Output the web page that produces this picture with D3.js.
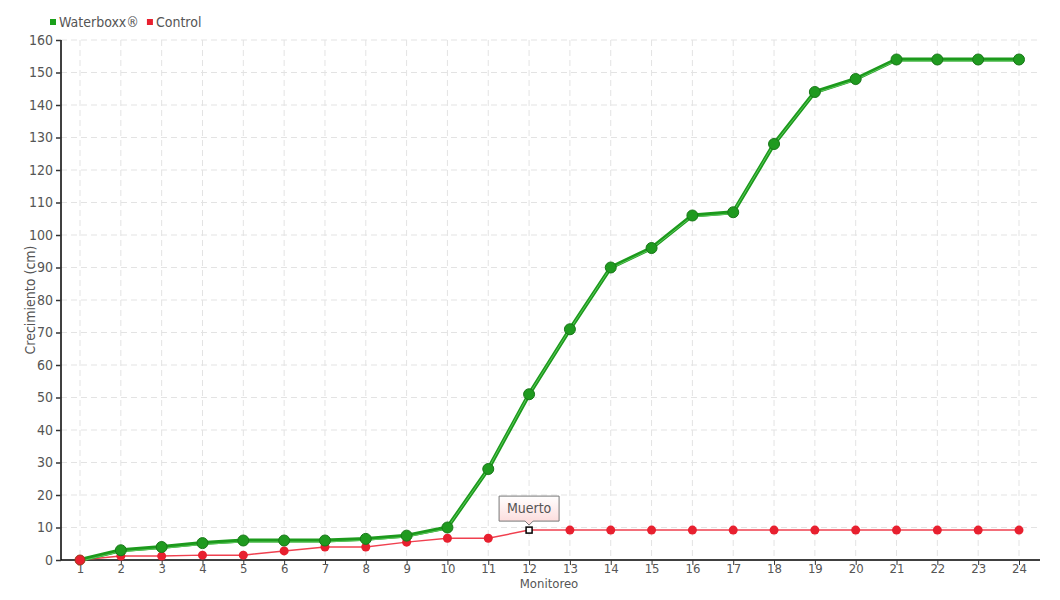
<!DOCTYPE html>
<html><head><meta charset="utf-8">
<script src="https://cdn.jsdelivr.net/npm/d3@7"></script>
<style>
body{margin:0;background:#fff;}
text{font-family:"Liberation Sans Narrow","DejaVu Sans Condensed",sans-serif;}
</style></head>
<body><svg id="c" width="1060" height="600"></svg>
<script>
const categories = d3.range(1,25).map(String);
const waterboxx = [0,3,4,5.2,6,6,6,6.5,7.5,10,28,51,71,90,96,106,107,128,144,148,154,154,154,154];
const control = [0,1.2,1.2,1.5,1.5,2.8,4,4,5.5,6.7,6.7,9.2,9.2,9.2,9.2,9.2,9.2,9.2,9.2,9.2,9.2,9.2,9.2,9.2];
const yTicks = d3.range(0,161,10);
const seriesNames = ["Waterboxx®","Control"];
const annotation = {index:11, label:"Muerto"};

(function(){
const svg = d3.select("#c");
const pL=61, pR=1040, pT=40, pB=560;
const x = d3.scalePoint().domain(categories).range([80,1019]);
const y = d3.scaleLinear().domain([0,160]).range([pB,pT]);

// grid
const g = svg.append("g");
g.selectAll("line.h").data(yTicks.slice(1)).join("line")
 .attr("x1",pL).attr("x2",pR).attr("y1",d=>y(d)).attr("y2",d=>y(d))
 .attr("stroke","#e3e3e3").attr("stroke-dasharray","6,4");
g.selectAll("line.v").data(categories).join("line")
 .attr("x1",d=>x(d)).attr("x2",d=>x(d)).attr("y1",pT).attr("y2",pB)
 .attr("stroke","#e3e3e3").attr("stroke-dasharray","6,4");

// axes
const ya = svg.append("g").attr("transform",`translate(${pL},0)`)
 .call(d3.axisLeft(y).tickValues(yTicks).tickSize(5).tickPadding(3));
ya.select(".domain").attr("d",`M0,${pT}V${pB}`).attr("stroke","#000").attr("stroke-width",1.5);
ya.selectAll("text").attr("fill","#555").style("font-size","14px");
ya.selectAll(".tick line").attr("stroke","#333").attr("stroke-width",1.5);

const xa = svg.append("g").attr("transform",`translate(0,${pB})`)
 .call(d3.axisBottom(x).tickSize(5).tickPadding(-1));
xa.select(".domain").attr("d",`M${pL},0H${pR}`).attr("stroke","#000").attr("stroke-width",1.5);
xa.selectAll("text").attr("fill","#555").style("font-size","13px");
xa.selectAll(".tick line").attr("stroke","#333");

svg.append("text").attr("x",549).attr("y",588).attr("text-anchor","middle")
 .attr("fill","#555").style("font-size","13px").text("Monitoreo");
svg.append("text").attr("transform","translate(35,300) rotate(-90)").attr("text-anchor","middle")
 .attr("fill","#555").style("font-size","14px").text("Crecimiento (cm)");

// lines
const line = d3.line().x((d,i)=>x(categories[i])).y(d=>y(d));
svg.append("path").datum(control).attr("d",line).attr("fill","none")
 .attr("stroke","#f0404f").attr("stroke-width",1.5);
svg.append("path").datum(waterboxx).attr("d",line).attr("fill","none")
 .attr("stroke","#1c9a1c").attr("stroke-width",4);
svg.append("path").datum(waterboxx).attr("d",line).attr("fill","none")
 .attr("stroke","#5cc85c").attr("stroke-width",1).attr("transform","translate(-1,1.5)");

svg.append("g").selectAll("circle").data(control).join("circle")
 .attr("cx",(d,i)=>x(categories[i])).attr("cy",d=>y(d)).attr("r",4.5)
 .attr("fill","#e8202f")
 .attr("display",(d,i)=>i===annotation.index?"none":null);
svg.append("g").selectAll("circle").data(waterboxx).join("circle")
 .attr("cx",(d,i)=>x(categories[i])).attr("cy",d=>y(d)).attr("r",5.5)
 .attr("fill",(d,i)=>i===0?"none":"#1f9a1f").attr("stroke",(d,i)=>i===0?"none":"#187818").attr("stroke-width",1);
// first control point on top
svg.append("circle").attr("cx",x(categories[0])).attr("cy",y(control[0])).attr("r",5)
 .attr("fill","#e8202f").attr("stroke","#9a3a1a").attr("stroke-width",1);

// annotation
const ax = x(categories[annotation.index]), ay = y(control[annotation.index]);
const defs = svg.append("defs");
const grad = defs.append("linearGradient").attr("id","tg").attr("x1",0).attr("y1",0).attr("x2",0).attr("y2",1);
grad.append("stop").attr("offset","0%").attr("stop-color","#ffffff");
grad.append("stop").attr("offset","100%").attr("stop-color","#fcd8d8");
const bw=60,bh=25,bx=ax-30,by=ay-34;
svg.append("path")
 .attr("d",`M${bx},${by}H${bx+bw}V${by+bh}H${ax+4}L${ax},${by+bh+4}L${ax-4},${by+bh}H${bx}Z`)
 .attr("fill","url(#tg)").attr("stroke","#777").attr("stroke-width",1);
svg.append("text").attr("x",ax).attr("y",by+17).attr("text-anchor","middle")
 .attr("fill","#555").style("font-size","14px").text(annotation.label);
svg.append("rect").attr("x",ax-3).attr("y",ay-3).attr("width",6).attr("height",6)
 .attr("fill","#fff").attr("stroke","#000").attr("stroke-width",1.5);

// legend
const colors=["#1aa01a","#e8202f"];
const lg = svg.append("g");
let lx=50;
seriesNames.forEach((n,i)=>{
  lg.append("rect").attr("x",lx).attr("y",19).attr("width",6).attr("height",6).attr("fill",colors[i]);
  const t=lg.append("text").attr("x",lx+9).attr("y",27).attr("fill","#555").style("font-size","14px").text(n);
  lx += 9 + t.node().getComputedTextLength() + 8;
});
})();
</script></body></html>
